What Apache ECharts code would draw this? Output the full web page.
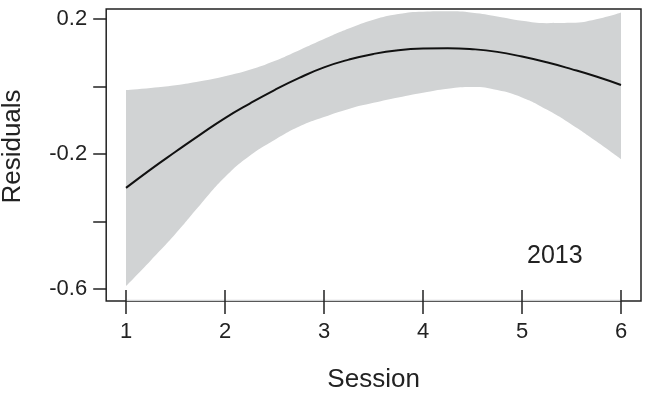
<!DOCTYPE html>
<html>
<head>
<meta charset="utf-8">
<script src="https://cdn.jsdelivr.net/npm/echarts@6/dist/echarts.min.js"></script>
<style>
  html, body { margin: 0; padding: 0; background: #fff; }
  #chart { width: 650px; height: 394px; }
</style>
</head>
<body>
<div id="chart"></div>
<script>
// Residuals vs session: smooth fit with its confidence band.
const FONT = "'Liberation Sans', Arial, Helvetica, sans-serif";
const INK = '#222';
const BAND = '#d1d3d4';

const sessions = [1, 1.25, 1.5, 1.75, 2, 2.25, 2.5, 2.75, 3, 3.25, 3.5, 3.75, 4, 4.25, 4.5, 4.75, 5, 5.25, 5.5, 5.75, 6];
const fit = [-0.300, -0.245, -0.193, -0.142, -0.093, -0.050, -0.010, 0.026, 0.057, 0.080, 0.097, 0.108, 0.113, 0.114, 0.111, 0.103, 0.089, 0.072, 0.052, 0.030, 0.005];
const upper = [-0.010, -0.004, 0.004, 0.016, 0.031, 0.050, 0.076, 0.108, 0.141, 0.172, 0.198, 0.215, 0.222, 0.223, 0.219, 0.208, 0.195, 0.188, 0.189, 0.200, 0.220];
const lower = [-0.591, -0.515, -0.436, -0.350, -0.268, -0.205, -0.158, -0.118, -0.090, -0.066, -0.048, -0.032, -0.018, -0.006, -0.001, -0.010, -0.032, -0.068, -0.112, -0.162, -0.215];

const xTicks = [1, 2, 3, 4, 5, 6];
const yTicks = [-0.6, -0.4, -0.2, 0, 0.2];
const yLabels = [-0.6, -0.2, 0.2];
const panelLabel = '2013';

const Y_MIN = -0.635;
const Y_MAX = 0.23;
// grid is 534.8px wide -> 99px per session, so sessions 1 and 6 land on whole pixels
// (keeps the band's vertical ends crisp, no faint seam under the white fill)
const X_MIN = 0.8;
const X_MAX = 6.202;

const chart = echarts.init(document.getElementById('chart'));

const pairs = (ys) => sessions.map((x, i) => [x, ys[i]]);

chart.setOption({
  animation: false,
  backgroundColor: '#fff',
  textStyle: { fontFamily: FONT },
  grid: {
    left: 106.2, right: 9, top: 9, bottom: 93, outerBoundsMode: 'none', containLabel: false,
    show: true, borderColor: INK, borderWidth: 1.5, backgroundColor: 'transparent',
  },
  xAxis: {
    type: 'value', min: X_MIN, max: X_MAX, offset: -11, z: 10,
    name: 'Session', nameLocation: 'middle', nameGap: 77,
    nameTextStyle: { fontSize: 26, color: INK, fontFamily: FONT },
    axisLine: { show: false, onZero: false },
    axisTick: { show: true, length: 24, customValues: xTicks, lineStyle: { color: INK, width: 1.5 } },
    axisLabel: { customValues: xTicks, margin: 31, fontSize: 22, color: INK, fontFamily: FONT },
    splitLine: { show: false },
  },
  yAxis: {
    type: 'value', min: Y_MIN, max: Y_MAX, z: 10,
    name: 'Residuals', nameLocation: 'middle', nameGap: 80,
    nameTextStyle: { fontSize: 26, color: INK, fontFamily: FONT, padding: [0, 0, 0, 17] },
    axisLine: { show: false, onZero: false },
    axisTick: { show: true, length: 13, customValues: yTicks, lineStyle: { color: INK, width: 1.5 } },
    axisLabel: { customValues: yLabels, margin: 19, fontSize: 22, color: INK, fontFamily: FONT },
    splitLine: { show: false },
  },
  graphic: [{
    type: 'text', left: 527, top: 244, z: 20,
    style: { text: panelLabel, fontSize: 25, fill: INK, fontFamily: FONT },
  }],
  series: [
    {
      // gray from the upper edge down
      type: 'line', data: pairs(upper), smooth: true, showSymbol: false, silent: true, z: 1,
      lineStyle: { width: 0, opacity: 0 },
      areaStyle: { color: BAND, opacity: 1, origin: 'start' },
    },
    {
      // white below the lower edge clears it back out
      type: 'line', data: pairs(lower), smooth: true, showSymbol: false, silent: true, z: 2,
      lineStyle: { width: 0, opacity: 0 },
      areaStyle: { color: '#fff', opacity: 1, origin: Y_MIN + 0.004 },
    },
    {
      type: 'line', data: pairs(fit), smooth: true, showSymbol: false, silent: true, z: 5,
      lineStyle: { color: '#111', width: 2 },
    },
  ],
});
</script>
</body>
</html>
